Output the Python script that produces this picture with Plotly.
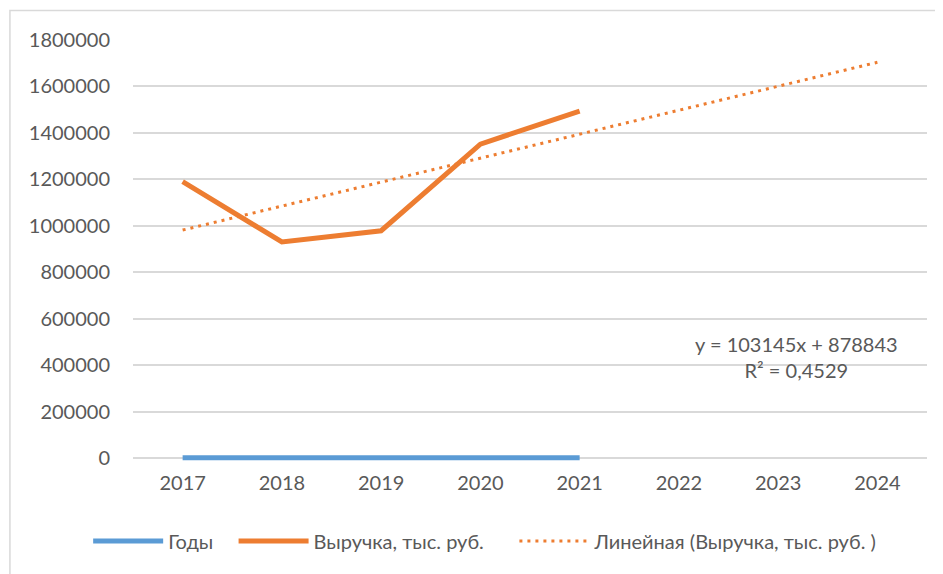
import plotly.graph_objects as go

years = ["2017", "2018", "2019", "2020", "2021", "2022", "2023", "2024"]
years_data = ["2017", "2018", "2019", "2020", "2021"]
year_values = [2017, 2018, 2019, 2020, 2021]
revenue = [1190000, 931000, 979000, 1352000, 1494000]
trend = [981988, 1085133, 1188278, 1291423, 1394568, 1497713, 1600858, 1704003]
y_ticks = [0, 200000, 400000, 600000, 800000, 1000000, 1200000, 1400000, 1600000, 1800000]
equation_text = "y = 103145x + 878843<br>R² = 0,4529"

FONT = "Lato"
TXT = "#595959"
GRID = "#d9d9d9"
NB = "\u00a0"

fig = go.Figure()
fig.add_trace(go.Scatter(x=years_data, y=year_values, mode="lines", name="Годы" + NB * 3,
                         line=dict(color="#5B9BD5", width=5)))
fig.add_trace(go.Scatter(x=years_data, y=revenue, mode="lines", name="Выручка, тыс. руб." + NB * 5,
                         line=dict(color="#ED7D31", width=5)))
fig.add_trace(go.Scatter(x=years, y=trend, mode="lines", name="Линейная (Выручка, тыс. руб. )",
                         line=dict(color="#ED7D31", width=3, dash="3px,5px")))

fig.add_annotation(x=6.19, y=435000, xref="x", yref="y", text=equation_text,
                   showarrow=False, align="center",
                   font=dict(family=FONT, size=20, color=TXT))

fig.add_shape(type="rect", xref="paper", yref="paper", x0=-0.155, x1=1.05, y0=-0.3, y1=1.07,
              line=dict(color=GRID, width=1.5), fillcolor="rgba(0,0,0,0)", layer="below")

fig.update_layout(
    width=943, height=574,
    margin=dict(l=125, r=24, t=32, b=121),
    paper_bgcolor="white", plot_bgcolor="white",
    font=dict(family=FONT, size=20, color=TXT),
    showlegend=True,
    legend=dict(orientation="h", xref="container", yref="container",
                x=0.506, xanchor="center", y=0.0714, yanchor="middle",
                font=dict(family=FONT, size=20, color=TXT), itemwidth=70,
                traceorder="normal"),
    xaxis=dict(type="category", categoryorder="array", categoryarray=years,
               range=[-0.5, 7.5], showgrid=False, showline=False,
               ticks="", zeroline=False, ticklabelstandoff=8,
               tickfont=dict(family=FONT, size=20, color=TXT)),
    yaxis=dict(range=[-12000, 1800000], tickvals=y_ticks, tickformat="d",
               showgrid=True, gridcolor=GRID, gridwidth=1.5,
               zeroline=True, zerolinecolor=GRID, zerolinewidth=1.5,
               showline=False, ticks="", ticklabelstandoff=22,
               tickfont=dict(family=FONT, size=20, color=TXT)),
)

fig.write_html("out.html")
